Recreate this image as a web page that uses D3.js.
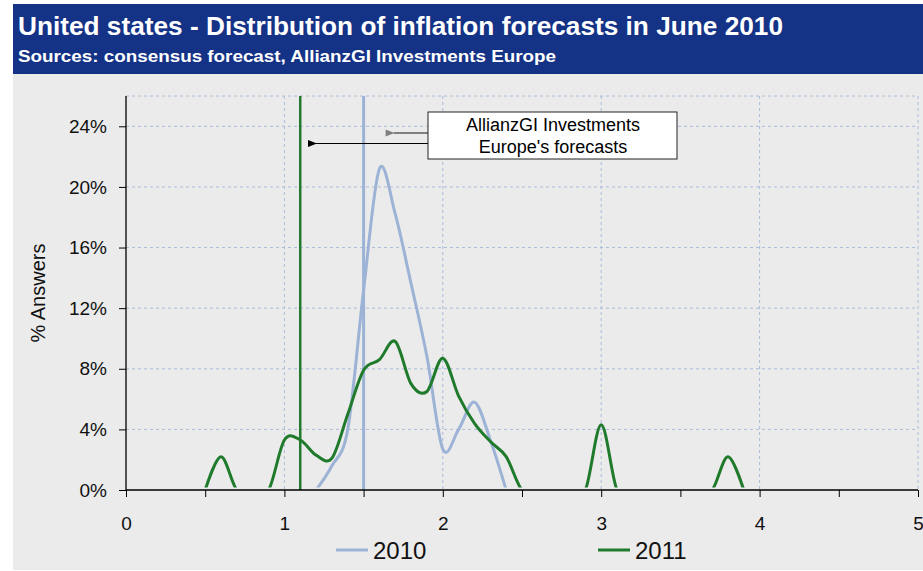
<html>
<script src='https://d3js.org/d3.v7.min.js'></script>
<style>
body {margin:0; background:#fff;}
text {font-family: Arial, "Liberation Sans", sans-serif;}
</style>
<body onload='init()'>
<svg width=923 height=571></svg>
<script>
// inflation forecast values (x) and share of answers in % (y)
var xs2010 = [1.2, 1.3, 1.4, 1.5, 1.6, 1.7, 1.8, 1.9, 2.0, 2.1, 2.2, 2.3, 2.4];
var ys2010 = [0, 1.6, 4.0, 13.2, 21.2, 18.2, 13.6, 8.8, 2.7, 4.0, 5.8, 3.3, 0];

var xs2011 = [0.5, 0.6, 0.7, 0.8, 0.9, 1.0, 1.1, 1.2, 1.3, 1.4, 1.5, 1.6, 1.7, 1.8, 1.9, 2.0,
              2.1, 2.2, 2.3, 2.4, 2.5, 2.6, 2.7, 2.8, 2.9, 3.0, 3.1, 3.2, 3.3, 3.4, 3.5, 3.6, 3.7, 3.8, 3.9];
var ys2011 = [0, 2.2, 0, 0, 0, 3.3, 3.3, 2.3, 2.1, 5.0, 7.9, 8.6, 9.8, 7.0, 6.5, 8.7,
              6.2, 4.4, 3.2, 2.2, 0, 0, 0, 0, 0, 4.3, 0, 0, 0, 0, 0, 0, 0, 2.2, 0];

var forecast2010 = 1.5, forecast2011 = 1.1;
var yTicks = [0, 4, 8, 12, 16, 20, 24];
var xTicks = [0, 1, 2, 3, 4, 5];

function init() {
  var svg = d3.select("svg");
  var left = 126, top = 96, width = 792, height = 394;

  // header + body
  svg.append("rect").attr("x", 13).attr("y", 4).attr("width", 910).attr("height", 70).attr("fill", "#143286");
  svg.append("rect").attr("x", 13).attr("y", 74).attr("width", 910).attr("height", 496).attr("fill", "#ebebeb");
  svg.append("text").attr("x", 18).attr("y", 35).attr("fill", "#fff").attr("font-weight", "bold")
     .attr("font-size", 25).attr("textLength", 765).attr("lengthAdjust", "spacingAndGlyphs")
     .text("United states - Distribution of inflation forecasts in June 2010");
  svg.append("text").attr("x", 18).attr("y", 62).attr("fill", "#fff").attr("font-weight", "bold")
     .attr("font-size", 17).attr("textLength", 538).attr("lengthAdjust", "spacingAndGlyphs")
     .text("Sources: consensus forecast, AllianzGI Investments Europe");

  var x = d3.scaleLinear().domain([0, 5]).range([0, width]);
  var y = d3.scaleLinear().domain([0, 26]).range([height, 0]);

  var g = svg.append("g").attr("transform", "translate(" + left + "," + top + ")");

  // clip just above the axis so zero stretches stay hidden behind it
  g.append("clipPath").attr("id", "plot").append("rect").attr("width", width).attr("height", height - 2.5);

  // grid
  g.selectAll(".hg").data([4, 8, 12, 16, 20, 24, 26]).enter().append("line")
    .attr("x1", 0).attr("x2", width).attr("y1", d => y(d)).attr("y2", d => y(d))
    .attr("stroke", "#a9bcd9").attr("stroke-dasharray", "3,3");
  g.selectAll(".vg").data([1, 2, 3, 4, 5]).enter().append("line")
    .attr("x1", d => x(d)).attr("x2", d => x(d)).attr("y1", 0).attr("y2", height)
    .attr("stroke", "#a9bcd9").attr("stroke-dasharray", "3,3");

  // forecast markers
  g.append("line").attr("x1", x(forecast2010)).attr("x2", x(forecast2010)).attr("y1", 0).attr("y2", height)
    .attr("stroke", "#9db3d6").attr("stroke-width", 3);
  g.append("line").attr("x1", x(forecast2011)).attr("x2", x(forecast2011)).attr("y1", 0).attr("y2", height)
    .attr("stroke", "#237a2f").attr("stroke-width", 2.5);

  var line = d3.line().x(d => x(d[0])).y(d => y(d[1])).curve(d3.curveCardinal.tension(0));
  var p = g.append("g").attr("clip-path", "url(#plot)");
  p.append("path").datum(d3.zip(xs2010, ys2010)).attr("d", line)
    .attr("fill", "none").attr("stroke", "#9db3d6").attr("stroke-width", 3);
  p.append("path").datum(d3.zip(xs2011, ys2011)).attr("d", line)
    .attr("fill", "none").attr("stroke", "#1f7a2c").attr("stroke-width", 3);

  // axes
  var ya = g.append("g").call(d3.axisLeft(y).tickValues(yTicks).tickSize(7).tickPadding(12).tickFormat(d => d + "%"));
  ya.select(".domain").attr("d", "M0," + height + "V0").attr("stroke-width", 1.3);
  ya.selectAll("text").attr("font-size", 19).attr("fill", "#111").attr("font-family", "Arial, Liberation Sans, sans-serif");

  var xa = g.append("g").attr("transform", "translate(0," + height + ")")
    .call(d3.axisBottom(x).tickValues(d3.range(0, 5.01, 0.5)).tickSize(7).tickPadding(20)
      .tickFormat(d => xTicks.indexOf(d) >= 0 ? d : ""));
  xa.select(".domain").attr("d", "M0,0H" + width).attr("stroke-width", 1.5);
  xa.selectAll("text").attr("font-size", 19).attr("fill", "#111").attr("font-family", "Arial, Liberation Sans, sans-serif");

  svg.append("text").attr("transform", "translate(45,293) rotate(-90)").attr("text-anchor", "middle")
     .attr("font-size", 20).attr("fill", "#111").text("% Answers");

  // annotation
  var defs = svg.append("defs");
  [["ag", "#7f7f7f"], ["ab", "#000"]].forEach(function(a) {
    defs.append("marker").attr("id", a[0]).attr("viewBox", "0 0 10 10").attr("refX", 1).attr("refY", 5)
      .attr("markerWidth", 12).attr("markerHeight", 9).attr("markerUnits", "userSpaceOnUse").attr("orient", "auto")
      .append("path").attr("d", "M10,1L0,5L10,9z").attr("fill", a[1]);
  });
  svg.append("line").attr("x1", 428).attr("x2", left + x(1.69)).attr("y1", 133).attr("y2", 133)
     .attr("stroke", "#7f7f7f").attr("stroke-width", 2).attr("marker-end", "url(#ag)");
  svg.append("line").attr("x1", 428).attr("x2", left + x(1.2)).attr("y1", 143.5).attr("y2", 143.5)
     .attr("stroke", "#000").attr("stroke-width", 1).attr("marker-end", "url(#ab)");
  svg.append("rect").attr("x", 428).attr("y", 112).attr("width", 249).attr("height", 47)
     .attr("fill", "#fff").attr("stroke", "#222");
  svg.append("text").attr("x", 553).attr("y", 131).attr("text-anchor", "middle").attr("font-size", 18).text("AllianzGI Investments");
  svg.append("text").attr("x", 553).attr("y", 153).attr("text-anchor", "middle").attr("font-size", 18).text("Europe's forecasts");

  // legend
  var leg = [["2010", "#9db3d6", 336], ["2011", "#1f7a2c", 598]];
  leg.forEach(function(l) {
    svg.append("line").attr("x1", l[2]).attr("x2", l[2] + 32).attr("y1", 550).attr("y2", 550)
       .attr("stroke", l[1]).attr("stroke-width", 3);
    svg.append("text").attr("x", l[2] + 37).attr("y", 558.5).attr("font-size", 24).attr("fill", "#111").text(l[0]);
  });
}
</script>
</body>
</html>
